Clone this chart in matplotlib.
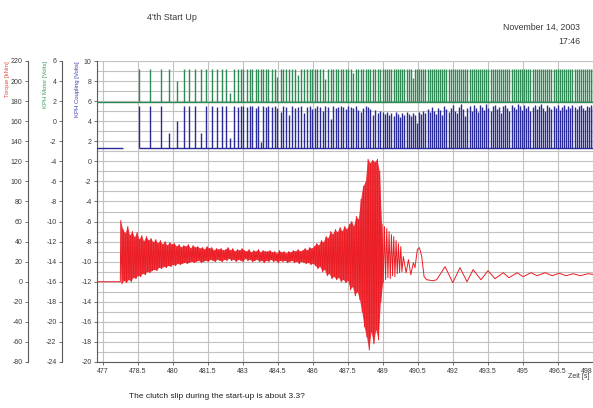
import numpy as np
import matplotlib
matplotlib.use("Agg")
import matplotlib.pyplot as plt

plt.rcParams['font.family'] = ['Liberation Sans', 'DejaVu Sans']
plt.rcParams['axes.unicode_minus'] = False

# ---------------- data ----------------
title = "4'th Start Up"
date_text = "November 14, 2003"
time_text = "17:46"
note_text = "The clutch slip during the start-up is about 3.3?"
x_label = "Zeit [s]"
torque_label = "Torque [kNm]"
motor_label = "KPH Motor [Volts]"
coupling_label = "KPH Coupling [Volts]"

x_ticks = [477, 478.5, 480, 481.5, 483, 484.5, 486, 487.5, 489, 490.5, 492,
           493.5, 495, 496.5, 498]
torque_ticks = list(range(-80, 221, 20))
motor_ticks = list(range(-24, 7, 2))
coupling_ticks = list(range(-20, 11, 2))

# torque before start (kNm)
torque_base_t = [476.7, 477.74]
torque_base = [0, 0]

# dense oscillation: peaks at 477.76 + 0.1*i, troughs 0.05 s later (kNm)
torque_t0 = 477.76
torque_dt = 0.1
torque_solid_count = 113   # peaks before the slip ends (dense, solid band)
torque_peaks = [
    61, 52, 48, 55, 46, 50, 44, 49, 42, 46,
    40, 45, 41, 43, 39, 42, 38, 41, 37, 40,
    36, 39, 37, 38, 35, 37, 34, 36, 35, 37,
    33, 36, 34, 35, 33, 34, 32, 35, 33, 34,
    31, 33, 32, 33, 31, 32, 34, 31, 33, 30,
    32, 31, 33, 31, 30, 32, 29, 31, 30, 32,
    29, 31, 30, 30, 31, 29, 30, 28, 31, 29,
    30, 28, 30, 29, 31, 30, 32, 30, 31, 33,
    31, 34, 33, 35, 38, 36, 41, 39, 45, 43,
    50, 47, 52, 49, 54, 50, 55, 52, 57, 60,
    55, 65, 62, 82, 95, 99, 122, 118, 121, 119,
    122, 110, 57, 55, 53, 50, 47, 45, 41, 38, 35]
torque_troughs = [
    -2, 1, -1, 2, 0, 4, 3, 6, 5, 8,
    7, 10, 9, 11, 12, 11, 14, 13, 15, 14,
    16, 15, 17, 16, 18, 17, 18, 19, 18, 19,
    20, 19, 20, 21, 19, 20, 21, 20, 22, 21,
    20, 22, 21, 20, 22, 21, 23, 21, 22, 20,
    22, 21, 20, 23, 21, 22, 20, 21, 22, 20,
    21, 19, 21, 20, 22, 20, 21, 19, 21, 20,
    21, 19, 20, 21, 19, 20, 18, 20, 19, 18,
    19, 17, 18, 16, 13, 15, 10, 12, 6, 8,
    3, 5, 2, 4, 0, 2, -1, 1, -8, -5,
    -14, -10, -18, -30, -45, -55, -68, -50, -62, -48,
    -58, -20, -1, 2, 4, 3, 6, 5, 8, 9, 10]

# decaying tail after the slip (s, kNm)
tail_t = [489.87, 489.99, 490.09, 490.19, 490.30, 490.37, 490.47, 490.56,
          490.66, 490.76, 490.87, 491.14, 491.30, 491.66, 491.99, 492.30,
          492.60, 492.86, 493.20, 493.50, 493.80, 494.15, 494.40, 494.75,
          495.00, 495.35, 495.60, 495.95, 496.25, 496.55, 496.85, 497.15,
          497.45, 497.79, 498.09]
tail_torque = [25, 9, 22, 7, 19, 14, 32, 34, 25, 5, 2, 1, 2, 15, -1, 14,
               0, 12, 2, 11, 3, 9, 4, 9, 5, 9, 6, 9, 6, 8.5, 6, 8, 6, 8, 7]

# speed pulses (s)
pulse_t = [
    478.54, 479.01, 479.47, 479.84, 480.18, 480.48, 480.70, 480.94, 481.19, 481.41,
    481.66, 481.87, 482.09, 482.26, 482.44, 482.61, 482.77, 482.90, 483.01, 483.16,
    483.30, 483.40, 483.55, 483.66, 483.77, 483.87, 483.99, 484.09,
    484.22, 484.35, 484.47, 484.61, 484.73, 484.86, 484.98, 485.11, 485.23, 485.36,
    485.48, 485.60, 485.73, 485.85, 485.97,
    486.08, 486.19, 486.31, 486.42, 486.53, 486.64, 486.75, 486.86, 486.97, 487.08,
    487.19, 487.30, 487.40, 487.51, 487.62, 487.72, 487.83, 487.94, 488.04, 488.15,
    488.25, 488.36, 488.46, 488.57, 488.67, 488.78, 488.88, 488.98,
    489.08, 489.17, 489.27, 489.36, 489.45, 489.55, 489.64, 489.73, 489.82, 489.92,
    490.01, 490.10, 490.19, 490.28, 490.37, 490.46, 490.55, 490.64, 490.73, 490.82,
    490.91, 491.00, 491.09, 491.18, 491.27, 491.36, 491.45, 491.54, 491.63, 491.72,
    491.81, 491.90, 491.99, 492.08, 492.17, 492.26, 492.35, 492.44, 492.53, 492.62,
    492.71, 492.80, 492.89, 492.98, 493.07, 493.16, 493.25, 493.34, 493.43, 493.52,
    493.61, 493.70, 493.79, 493.88, 493.97, 494.06, 494.15, 494.24, 494.33, 494.42,
    494.51, 494.60, 494.69, 494.78, 494.87, 494.96, 495.05, 495.14, 495.23, 495.32,
    495.41, 495.50, 495.59, 495.68, 495.77, 495.86, 495.95, 496.04, 496.13, 496.22,
    496.31, 496.40, 496.49, 496.58, 496.67, 496.76, 496.85, 496.94, 497.03, 497.12,
    497.21, 497.30, 497.39, 497.48, 497.57, 497.66, 497.75, 497.84, 497.93, 498.02]

motor_base = 1.9
motor_base_t = [476.7, 498.2]
motor_top = [
    5.2, 5.2, 5.2, 5.2, 4.0, 5.2, 5.2, 5.2, 5.2, 5.2,
    5.2, 5.2, 5.2, 5.2, 2.8, 5.2, 5.2, 5.2, 5.2, 5.2,
    5.2, 5.2, 5.2, 5.2, 5.2, 5.2, 5.2, 5.2,
    5.2, 5.2, 4.4, 5.2, 5.2, 5.2, 5.2, 5.2, 5.2, 4.6,
    5.2, 5.2, 5.2, 5.2, 5.2,
    5.2, 5.2, 5.2, 5.2, 4.2, 5.2, 5.2, 5.2, 5.2, 5.2,
    5.2, 5.2, 5.2, 5.2, 5.2, 4.8, 5.2, 5.2, 5.2, 5.2,
    5.2, 5.2, 5.2, 5.2, 5.2, 5.2, 5.2, 5.2,
    5.2, 5.2, 5.2, 5.2, 5.2, 5.2, 5.2, 5.2, 5.2, 5.2,
    5.2, 5.2, 5.2, 4.3, 5.2, 5.2, 5.2, 5.2, 5.2, 5.2,
    5.2, 5.2, 5.2, 5.2, 5.2, 5.2, 5.2, 5.2, 5.2, 5.2,
    5.2, 5.2, 5.2, 5.2, 5.2, 5.2, 5.2, 5.2, 5.2, 5.2,
    5.2, 5.2, 5.2, 5.2, 5.2, 5.2, 5.2, 5.2, 5.2, 5.2,
    5.2, 5.2, 5.2, 5.2, 5.2, 5.2, 5.2, 5.2, 5.2, 5.2,
    5.2, 5.2, 5.2, 5.2, 5.2, 5.2, 5.2, 5.2, 5.2, 5.2,
    5.2, 5.2, 5.2, 5.2, 5.2, 5.2, 5.2, 5.2, 5.2, 5.2,
    5.2, 5.2, 5.2, 5.2, 5.2, 5.2, 5.2, 5.2, 5.2, 5.2,
    5.2, 5.2, 5.2, 5.2, 5.2, 5.2, 5.2, 5.2, 5.2, 5.2]

coupling_base = 1.3
coupling_base_start = [476.7, 478.54]
coupling_base_end = [477.86, 498.2]
coupling_top = [
    5.5, 5.5, 5.5, 2.8, 4.0, 5.5, 5.5, 5.5, 2.8, 5.5,
    5.5, 5.4, 5.5, 5.5, 2.3, 5.5, 5.4, 5.5, 5.5, 5.4,
    5.5, 5.5, 5.3, 5.5, 1.9, 5.5, 5.4, 5.5,
    5.4, 5.5, 5.3, 4.9, 5.5, 5.4, 4.6, 5.5, 5.3, 5.4,
    5.5, 4.8, 5.4, 5.5, 5.2,
    5.3, 5.5, 5.4, 5.0, 5.5, 5.4, 4.2, 5.5, 5.3, 5.4,
    5.5, 5.4, 5.2, 5.5, 5.4, 5.3, 5.5, 5.1, 4.9, 5.3,
    5.5, 5.4, 5.2, 4.6, 5.1, 4.8, 5.0, 4.9,
    4.7, 4.9, 4.6, 4.8, 4.5, 4.9, 4.7, 4.4, 4.8, 4.6,
    4.9, 4.7, 4.5, 4.8, 4.6, 3.8, 4.9, 4.7, 5.0, 4.8,
    5.2, 4.9, 5.4, 5.0, 4.7, 5.3, 5.1, 4.6, 5.5, 5.2,
    4.9, 5.3, 5.6, 5.0, 4.8, 5.4, 5.7, 5.2, 4.5, 5.3,
    5.5, 5.0, 5.6, 5.3, 4.9, 5.6, 5.4, 5.1, 5.7, 5.3,
    5.0, 5.5, 5.6, 5.2, 5.4, 4.8, 5.5, 5.6, 5.3, 5.0,
    5.6, 5.4, 5.2, 5.7, 5.5, 5.1, 5.6, 5.3, 5.5, 5.0,
    5.4, 5.6, 5.2, 5.5, 5.7, 5.3, 5.0, 5.6, 5.4, 5.2,
    5.5, 5.3, 5.6, 5.1, 5.4, 5.6, 5.2, 5.5, 5.3, 5.6,
    5.4, 5.2, 5.5, 5.6, 5.3, 5.1, 5.5, 5.4, 5.6, 5.3]

# ---------------- figure ----------------
W, H = 593, 408
fig = plt.figure(figsize=(W / 100, H / 100), dpi=100)

x_min, x_max = 476.74, 498.2
px_per_s = 23.33
ax_left, ax_top, ax_bot = 97, 61, 362
ax_w = (x_max - x_min) * px_per_s
ax = fig.add_axes([ax_left / W, (H - ax_bot) / H, ax_w / W, (ax_bot - ax_top) / H])

RED = '#ec1c24'
GREEN = '#2f8a55'
BLUE = '#2a2a98'
GRID = '#c4c2c0'
SPINE = '#5a5a5a'
TXT = '#3a3a3a'
FS = 5.0

ax.set_xlim(x_min, x_max)
ax.set_ylim(-20, 10)
ax.set_xticks(x_ticks)
ax.set_xticklabels([f"{v:g}" for v in x_ticks])
ax.get_xticklabels()[-1].set_horizontalalignment('right')
ax.set_yticks(coupling_ticks)
ax.set_yticks(np.arange(-20, 11, 1), minor=True)
ax.grid(True, axis='x', which='major', color=GRID, lw=0.8)
ax.grid(True, axis='y', which='both', color=GRID, lw=0.8)
ax.set_axisbelow(True)
for s in ['top', 'right']:
    ax.spines[s].set_visible(False)
for s in ['left', 'bottom']:
    ax.spines[s].set_color(SPINE)
    ax.spines[s].set_linewidth(0.8)
ax.tick_params(axis='both', which='major', labelsize=FS, colors=SPINE,
               labelcolor=TXT, length=2.5, width=0.6, pad=1.5)
ax.tick_params(axis='y', which='minor', length=0)

# coupling pulses (main axis)
ax.hlines([coupling_base] * len(coupling_base_start), coupling_base_start,
          coupling_base_end, color=BLUE, lw=1.0, zorder=3)
ax.vlines(pulse_t, coupling_base, coupling_top, color=BLUE, lw=1.0, zorder=3)


def side_axis(offset_px, ylim, ticks):
    a = ax.twinx()
    a.set_ylim(*ylim)
    a.set_xlim(x_min, x_max)
    a.yaxis.set_ticks_position('left')
    a.yaxis.set_label_position('left')
    for s in ['top', 'right', 'bottom']:
        a.spines[s].set_visible(False)
    a.spines['left'].set_visible(True)
    a.spines['left'].set_position(('outward', offset_px * 72 / 100))
    a.spines['left'].set_color(SPINE)
    a.spines['left'].set_linewidth(0.8)
    a.set_yticks(ticks)
    a.tick_params(axis='y', labelsize=FS, colors=SPINE, labelcolor=TXT,
                  length=2.5, width=0.6, pad=1.5)
    a.patch.set_visible(False)
    return a


ax_m = side_axis(ax_left - 62, (-24, 6), motor_ticks)
ax_t = side_axis(ax_left - 28, (-80, 220), torque_ticks)

# motor pulses
ax_m.hlines(motor_base, motor_base_t[0], motor_base_t[1], color=GREEN, lw=1.0)
ax_m.vlines(pulse_t, motor_base, motor_top, color=GREEN, lw=1.0)

# torque
t_peak = [torque_t0 + torque_dt * i for i in range(len(torque_peaks))]
t_trough = [t + torque_dt / 2 for t in t_peak]
t_dense, v_dense = [], []
for tp, p, tq, q in zip(t_peak, torque_peaks, t_trough, torque_troughs):
    t_dense += [tp, tq]
    v_dense += [p, q]
n = torque_solid_count
ax_t.fill(t_peak[:n] + t_trough[:n][::-1],
          torque_peaks[:n] + torque_troughs[:n][::-1],
          color=RED, alpha=0.85, lw=0)
t_all = torque_base_t + t_dense + tail_t
v_all = torque_base + v_dense + tail_torque
ax_t.plot(t_all, v_all, color=RED, lw=0.7)

# axis titles
fig.text(7 / W, 1 - 61 / H, torque_label, rotation=90, va='top', ha='center',
         color='#e4503c', fontsize=4.3)
fig.text(45 / W, 1 - 61 / H, motor_label, rotation=90, va='top', ha='center',
         color='#3f9a60', fontsize=4.3)
fig.text(78 / W, 1 - 61 / H, coupling_label, rotation=90, va='top', ha='center',
         color='#3a3ab4', fontsize=4.3)

fig.text(147 / W, 1 - 17 / H, title, ha='left', va='center', fontsize=6.5, color=TXT)
fig.text(580 / W, 1 - 27 / H, date_text, ha='right', va='center', fontsize=6.3, color=TXT)
fig.text(580 / W, 1 - 41 / H, time_text, ha='right', va='center', fontsize=6.3, color=TXT)
fig.text(590 / W, 1 - 377 / H, x_label, ha='right', va='center', fontsize=5.0, color=TXT)
fig.text(129 / W, 1 - 397 / H, note_text, ha='left', va='center', fontsize=6.0, color='#202020')

fig.savefig('out.png', dpi=100)
